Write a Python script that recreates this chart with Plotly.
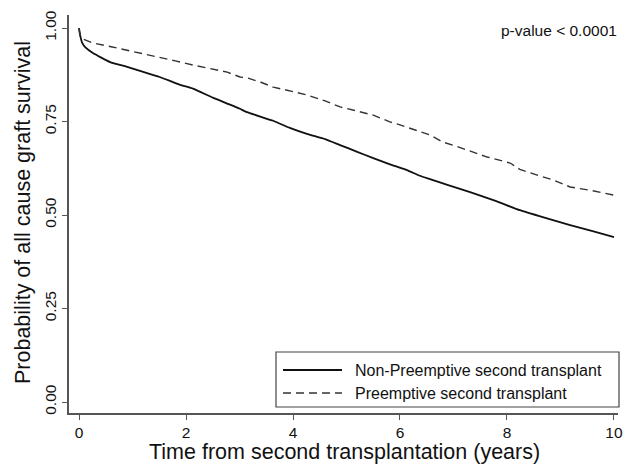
import plotly.graph_objects as go

# Kaplan-Meier curves
t_non = [0, 0.01, 0.03, 0.06, 0.12, 0.26, 0.58, 0.9, 1.2, 1.51, 1.89, 2.13, 2.51, 2.77, 3.01, 3.14, 3.63, 3.94, 4.26, 4.6, 4.88, 5.2, 5.5, 5.8, 6.13, 6.37, 6.56, 6.9, 7.31, 7.8, 8.24, 8.7, 9.18, 9.6, 10.0]
s_non = [1.0, 0.99, 0.975, 0.96, 0.948, 0.933, 0.909, 0.896, 0.883, 0.869, 0.848, 0.838, 0.813, 0.798, 0.784, 0.775, 0.752, 0.733, 0.717, 0.703, 0.687, 0.669, 0.652, 0.636, 0.620, 0.605, 0.596, 0.580, 0.561, 0.537, 0.513, 0.493, 0.473, 0.457, 0.441]

t_pre = [0, 0.02, 0.07, 0.26, 0.6, 0.9, 1.2, 1.51, 1.8, 2.13, 2.45, 2.77, 3.01, 3.16, 3.4, 3.63, 4.0, 4.26, 4.6, 4.88, 5.2, 5.5, 5.81, 6.0, 6.56, 6.8, 7.05, 7.25, 7.63, 8.06, 8.24, 8.6, 8.86, 9.18, 9.6, 10.0]
s_pre = [1.0, 0.98, 0.971, 0.96, 0.95, 0.941, 0.932, 0.922, 0.912, 0.901, 0.892, 0.882, 0.869, 0.866, 0.855, 0.842, 0.830, 0.821, 0.805, 0.789, 0.778, 0.767, 0.749, 0.741, 0.714, 0.695, 0.684, 0.674, 0.655, 0.639, 0.622, 0.605, 0.594, 0.575, 0.565, 0.553]

series_names = ["Non-Preemptive second transplant", "Preemptive second transplant"]
x_ticks = [0, 2, 4, 6, 8, 10]
y_ticks = [0, 0.25, 0.5, 0.75, 1.0]
y_tick_labels = ["0.00", "0.25", "0.50", "0.75", "1.00"]
p_text = "p-value < 0.0001"
x_title = "Time from second transplantation (years)"
y_title = "Probability of all cause graft survival"

FONT = "Liberation Sans, Arial, Helvetica, sans-serif"
AX = "#555555"
TXT = "#111111"

fig = go.Figure()
fig.add_trace(go.Scatter(x=t_non, y=s_non, mode="lines", name=series_names[0],
                         line=dict(color="#111111", width=1.8, shape="spline", smoothing=0.4),
                         showlegend=False))
fig.add_trace(go.Scatter(x=t_pre, y=s_pre, mode="lines", name=series_names[1],
                         line=dict(color="#333333", width=1.4, dash="8px,5px"), showlegend=False))

W, H = 623, 465
L, R, T, B = 69, 5, 15, 52
pw, ph = W - L - R, H - T - B

def px(xp):
    return (xp - L) / pw

def py(yp):
    return (H - B - yp) / ph

shapes = []
annotations = []
# manual legend box
shapes.append(dict(type="rect", xref="paper", yref="paper",
                   x0=px(276), x1=px(619), y0=py(407), y1=py(352),
                   line=dict(color="#444444", width=1.2), fillcolor="white"))
shapes.append(dict(type="line", xref="paper", yref="paper",
                   x0=px(283), x1=px(342), y0=py(370), y1=py(370),
                   line=dict(color="#111111", width=1.8)))
shapes.append(dict(type="line", xref="paper", yref="paper",
                   x0=px(283), x1=px(342), y0=py(393), y1=py(393),
                   line=dict(color="#333333", width=1.4, dash="8px,5px")))
for name, yy in zip(series_names, [370, 393]):
    annotations.append(dict(text=name, xref="paper", yref="paper", x=px(353), y=py(yy),
                            xanchor="left", yanchor="middle", showarrow=False,
                            font=dict(family=FONT, size=16, color=TXT)))
annotations.append(dict(text=p_text, xref="paper", yref="paper", x=px(619), y=py(30),
                        xanchor="right", yanchor="middle", showarrow=False,
                        font=dict(family=FONT, size=15.5, color=TXT)))
annotations.append(dict(text=x_title, xref="paper", yref="paper", x=px(344), y=py(452),
                        xanchor="center", yanchor="middle", showarrow=False,
                        font=dict(family=FONT, size=21.5, color=TXT)))
annotations.append(dict(text=y_title, xref="paper", yref="paper", x=px(23), y=py(213),
                        xanchor="center", yanchor="middle", showarrow=False, textangle=-90,
                        font=dict(family=FONT, size=21.5, color=TXT)))

fig.update_layout(
    width=W, height=H,
    margin=dict(l=L, r=R, t=T, b=B, autoexpand=False),
    paper_bgcolor="white", plot_bgcolor="white",
    font=dict(family=FONT, color=TXT),
    shapes=shapes, annotations=annotations,
    xaxis=dict(range=[-0.187, 10.075], tickvals=x_ticks, ticks="outside", ticklen=5,
               tickwidth=1.2, tickcolor=AX, showline=True, linecolor=AX, linewidth=1.5,
               showgrid=False, zeroline=False, automargin=False,
               tickfont=dict(size=15.5, color=TXT)),
    yaxis=dict(range=[-0.0294, 1.0348], tickvals=y_ticks, ticktext=y_tick_labels,
               tickangle=-90, ticks="outside", ticklen=5, tickwidth=1.2, tickcolor=AX,
               showline=True, linecolor=AX, linewidth=1.5, showgrid=False, zeroline=False,
               automargin=False, tickfont=dict(size=15.5, color=TXT)),
)

fig.write_html("out.html", config={"displayModeBar": False},
               post_script="document.body.style.margin='0';document.body.style.padding='0';document.body.style.overflow='hidden';")
